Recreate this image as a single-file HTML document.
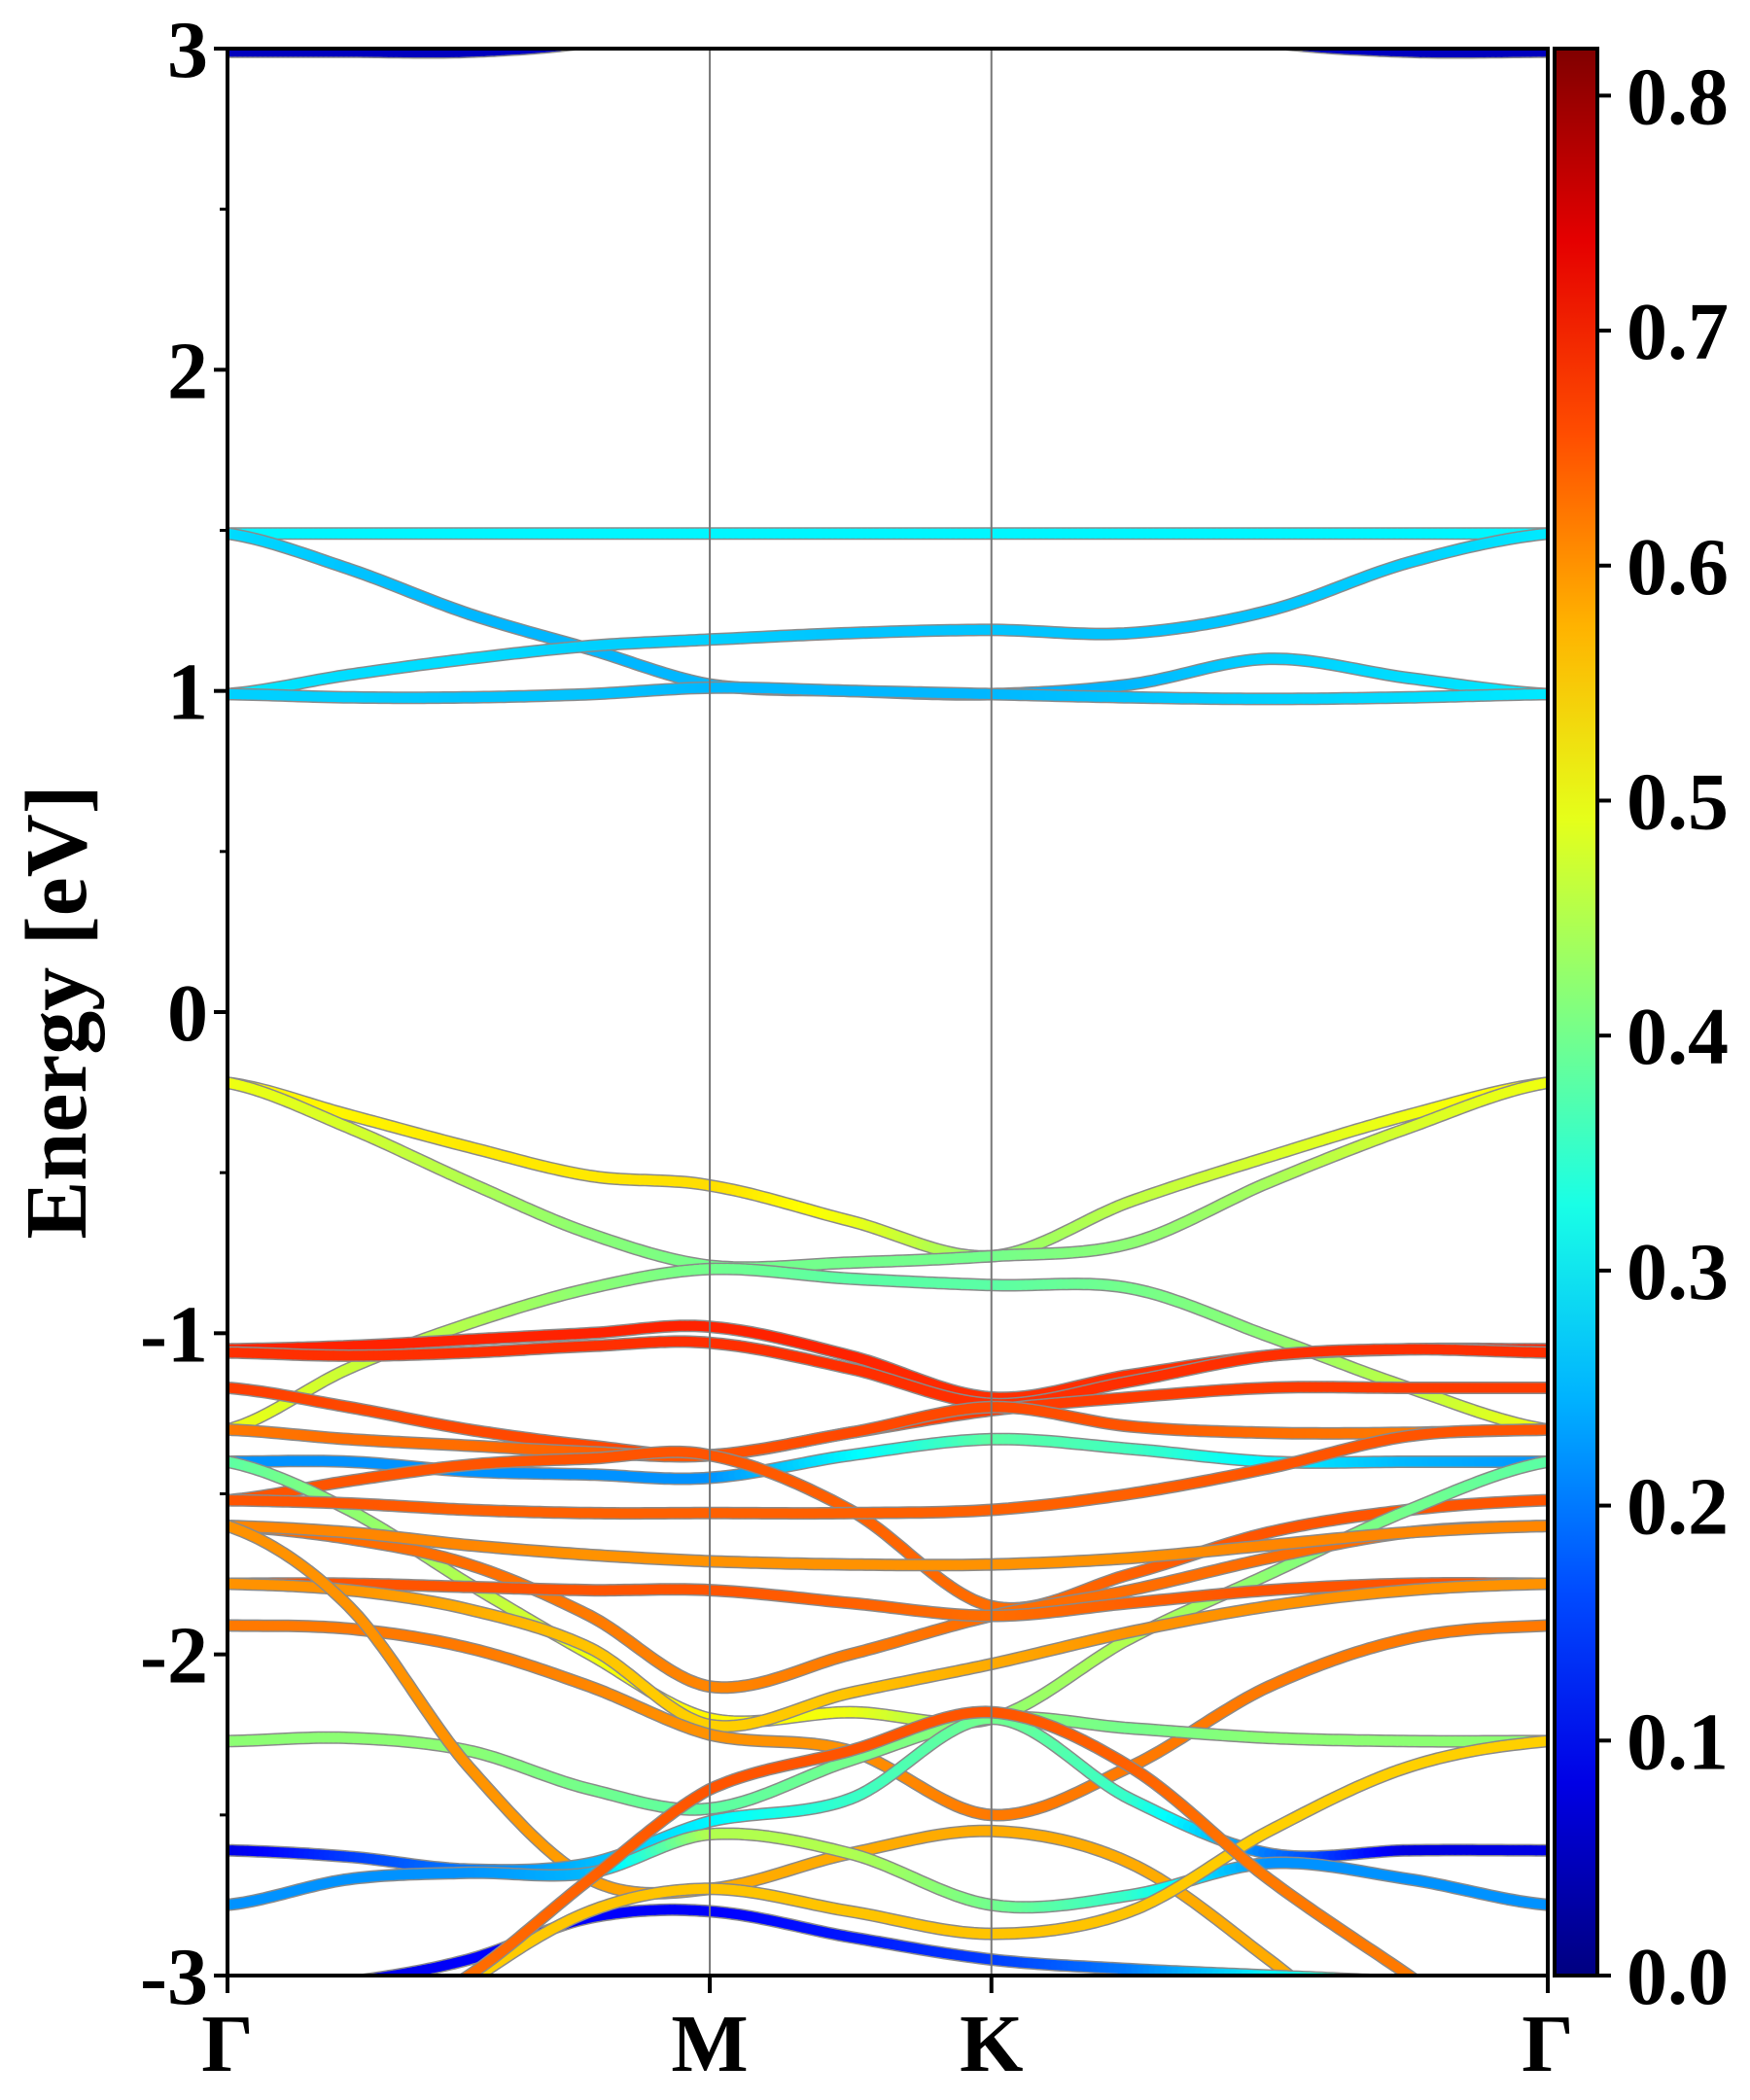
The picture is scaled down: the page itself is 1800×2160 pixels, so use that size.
<!DOCTYPE html>
<html><head><meta charset="utf-8"><style>
html,body{margin:0;padding:0;background:#fff;}
svg{display:block;}
text{font-family:"Liberation Serif","Times New Roman",serif;font-weight:700;}
</style></head><body>
<svg id="chart" width="1800" height="2160" xmlns="http://www.w3.org/2000/svg">
<defs><clipPath id="pc"><rect x="234" y="50" width="1358" height="1982"/></clipPath>
<linearGradient id="cbg" x1="0" y1="1" x2="0" y2="0"></linearGradient></defs>
<g id="bands" clip-path="url(#pc)"></g>
<g id="axes"></g>
</svg>
<script>
// k-path sample positions (fractions along path) and labels
const kPos = [0,0.0918,0.1827,0.2745,0.3653,0.4714,0.5786,0.6837,0.7888,0.8949,1];
const kLabels = ["Γ","M","K","Γ"];
const kLabelPos = [0,0.3653,0.5786,1];
const yTicks = [-3,-2,-1,0,1,2,3];
const cbTicks = [0.0,0.1,0.2,0.3,0.4,0.5,0.6,0.7,0.8];
const cMax = 0.82;
// band energies (eV) at kPos
const bandE = [
 [2.99,2.99,2.99,3.02,3.1,3.15,3.15,3.1,3.02,2.99,2.99],
 [1.49,1.49,1.49,1.49,1.49,1.49,1.49,1.49,1.49,1.49,1.49],
 [1.49,1.38,1.24,1.13,1.02,1.0,0.99,1.02,1.10,1.04,0.99],
 [0.99,1.05,1.10,1.14,1.16,1.18,1.19,1.18,1.25,1.40,1.49],
 [0.99,0.98,0.98,0.99,1.01,1.0,0.99,0.98,0.975,0.98,0.99],
 [-0.22,-0.32,-0.42,-0.51,-0.54,-0.65,-0.76,-0.59,-0.45,-0.32,-0.22],
 [-0.22,-0.36,-0.53,-0.69,-0.79,-0.78,-0.76,-0.72,-0.53,-0.36,-0.22],
 [-1.30,-1.11,-0.97,-0.86,-0.80,-0.83,-0.85,-0.86,-1.01,-1.17,-1.30],
 [-1.05,-1.04,-1.02,-1.00,-0.98,-1.07,-1.20,-1.13,-1.07,-1.05,-1.05],
 [-1.06,-1.07,-1.06,-1.04,-1.03,-1.11,-1.22,-1.15,-1.07,-1.05,-1.06],
 [-1.17,-1.23,-1.30,-1.35,-1.38,-1.31,-1.24,-1.20,-1.17,-1.17,-1.17],
 [-1.30,-1.33,-1.35,-1.37,-1.38,-1.31,-1.23,-1.29,-1.31,-1.31,-1.30],
 [-1.40,-1.40,-1.43,-1.44,-1.45,-1.38,-1.33,-1.36,-1.40,-1.40,-1.40],
 [-1.52,-1.46,-1.41,-1.39,-1.38,-1.55,-1.85,-1.75,-1.62,-1.55,-1.52],
 [-1.40,-1.55,-1.78,-2.0,-2.2,-2.18,-2.2,-1.95,-1.75,-1.55,-1.40],
 [-1.60,-1.64,-1.72,-1.88,-2.10,-2.0,-1.88,-1.8,-1.7,-1.62,-1.60],
 [-1.52,-1.53,-1.55,-1.56,-1.56,-1.56,-1.55,-1.50,-1.42,-1.32,-1.30],
 [-1.60,-1.62,-1.66,-1.69,-1.71,-1.72,-1.72,-1.70,-1.66,-1.62,-1.60],
 [-1.78,-1.78,-1.79,-1.80,-1.80,-1.84,-1.88,-1.84,-1.80,-1.78,-1.78],
 [-1.78,-1.80,-1.86,-1.98,-2.22,-2.12,-2.03,-1.93,-1.85,-1.80,-1.78],
 [-1.91,-1.92,-1.98,-2.10,-2.25,-2.30,-2.50,-2.35,-2.10,-1.95,-1.91],
 [-2.27,-2.26,-2.30,-2.42,-2.48,-2.33,-2.20,-2.23,-2.26,-2.27,-2.27],
 [-1.60,-1.85,-2.35,-2.70,-2.73,-2.62,-2.55,-2.65,-2.95,-3.30,-3.50],
 [-2.61,-2.63,-2.67,-2.65,-2.52,-2.45,-2.20,-2.45,-2.62,-2.61,-2.61],
 [-2.78,-2.70,-2.68,-2.68,-2.56,-2.62,-2.78,-2.75,-2.65,-2.70,-2.78],
 [-3.05,-3.02,-2.95,-2.82,-2.80,-2.88,-2.95,-2.98,-3.00,-3.02,-3.05],
 [-3.50,-3.30,-3.02,-2.80,-2.73,-2.80,-2.87,-2.80,-2.55,-2.35,-2.27],
 [-3.40,-3.20,-3.00,-2.70,-2.42,-2.30,-2.18,-2.35,-2.70,-3.00,-3.30]
];
// weight (colour value) per band at kPos
const bandW = [
 [0.05,0.05,0.05,0.05,0.05,0.05,0.05,0.05,0.05,0.05,0.05],
 [0.30,0.30,0.30,0.30,0.30,0.30,0.30,0.30,0.30,0.30,0.30],
 [0.28,0.26,0.25,0.25,0.25,0.24,0.24,0.25,0.27,0.28,0.29],
 [0.29,0.28,0.28,0.27,0.27,0.26,0.26,0.26,0.26,0.27,0.29],
 [0.27,0.27,0.26,0.26,0.25,0.25,0.25,0.26,0.27,0.28,0.29],
 [0.52,0.52,0.53,0.53,0.54,0.50,0.42,0.46,0.48,0.50,0.52],
 [0.50,0.48,0.45,0.42,0.40,0.40,0.40,0.42,0.44,0.48,0.50],
 [0.50,0.47,0.45,0.42,0.40,0.38,0.38,0.40,0.42,0.46,0.50],
 [0.69,0.69,0.69,0.69,0.69,0.69,0.68,0.68,0.68,0.69,0.69],
 [0.68,0.68,0.68,0.68,0.68,0.68,0.68,0.68,0.68,0.68,0.68],
 [0.67,0.66,0.66,0.66,0.66,0.66,0.67,0.67,0.67,0.67,0.67],
 [0.62,0.63,0.63,0.64,0.65,0.66,0.66,0.65,0.63,0.62,0.62],
 [0.22,0.22,0.22,0.22,0.22,0.30,0.38,0.36,0.30,0.25,0.22],
 [0.65,0.65,0.65,0.65,0.65,0.64,0.63,0.64,0.65,0.65,0.65],
 [0.38,0.42,0.45,0.50,0.52,0.50,0.42,0.45,0.42,0.40,0.38],
 [0.63,0.63,0.63,0.62,0.61,0.62,0.63,0.63,0.63,0.63,0.63],
 [0.65,0.65,0.64,0.64,0.64,0.64,0.64,0.64,0.65,0.65,0.65],
 [0.61,0.61,0.61,0.60,0.60,0.60,0.60,0.60,0.61,0.61,0.61],
 [0.65,0.65,0.65,0.65,0.65,0.64,0.63,0.64,0.65,0.65,0.65],
 [0.60,0.60,0.58,0.56,0.55,0.56,0.58,0.60,0.60,0.60,0.60],
 [0.62,0.62,0.62,0.61,0.60,0.60,0.62,0.62,0.62,0.62,0.62],
 [0.42,0.42,0.42,0.40,0.38,0.40,0.42,0.40,0.42,0.42,0.42],
 [0.60,0.60,0.60,0.59,0.58,0.58,0.58,0.58,0.58,0.58,0.58],
 [0.08,0.15,0.20,0.25,0.30,0.35,0.40,0.35,0.20,0.08,0.08],
 [0.22,0.22,0.22,0.25,0.45,0.45,0.40,0.35,0.22,0.22,0.22],
 [0.08,0.08,0.10,0.10,0.10,0.12,0.15,0.20,0.30,0.40,0.45],
 [0.55,0.55,0.55,0.56,0.56,0.56,0.56,0.56,0.55,0.55,0.55],
 [0.62,0.62,0.63,0.64,0.65,0.65,0.65,0.64,0.62,0.62,0.62]
];
const NS="http://www.w3.org/2000/svg";
const X0=234,X1=1592,Y0=50,Y1=2032,EMAX=3,EMIN=-3;
const FONT='"Liberation Serif","Times New Roman",serif';
function xs(f){return X0+f*(X1-X0);}
function ys(e){return Y0+(EMAX-e)/(EMAX-EMIN)*(Y1-Y0);}
function jet(v){let t=Math.max(0,Math.min(1,v/cMax));
 function c(x){return Math.max(0,Math.min(1,1.5-Math.abs(x)));}
 const r=c(4*t-3),g=c(4*t-2),b=c(4*t-1);
 return `rgb(${Math.round(r*255)},${Math.round(g*255)},${Math.round(b*255)})`;}
function mk(tag,attrs,parent){const e=document.createElementNS(NS,tag);for(const k in attrs)e.setAttribute(k,attrs[k]);parent.appendChild(e);return e;}
function cr(p0,p1,p2,p3,t){const t2=t*t,t3=t2*t;return 0.5*((2*p1)+(-p0+p2)*t+(2*p0-5*p1+4*p2-p3)*t2+(-p0+3*p1-3*p2+p3)*t3);}
const bandsG=document.getElementById('bands');
const N=kPos.length,SUB=24;
bandE.forEach((E,bi)=>{
 const W=bandW[bi];const pts=[];
 for(let i=0;i<N-1;i++){
  for(let s=0;s<SUB;s++){const t=s/SUB;
   const a=Math.max(0,i-1),d=Math.min(N-1,i+2);
   pts.push([kPos[i]+(kPos[i+1]-kPos[i])*t,cr(E[a],E[i],E[i+1],E[d],t),W[i]+(W[i+1]-W[i])*t]);}
 }
 pts.push([kPos[N-1],E[N-1],W[N-1]]);
 const g=mk('g',{},bandsG);
 
 
 const dStr=pts.map((p,i)=>(i?'L':'M')+xs(p[0]).toFixed(1)+' '+ys(p[1]).toFixed(1)).join(' ');
 mk('path',{d:dStr,fill:'none',stroke:'#8a8a8a','stroke-width':13,'stroke-linejoin':'round'},g);
 for(let i=0;i<pts.length-1;i++){
  mk('line',{x1:xs(pts[i][0]).toFixed(1),y1:ys(pts[i][1]).toFixed(1),x2:xs(pts[i+1][0]).toFixed(1),y2:ys(pts[i+1][1]).toFixed(1),stroke:jet((pts[i][2]+pts[i+1][2])/2),'stroke-width':10,'stroke-linecap':'round'},g);
 }
});
const ax=document.getElementById('axes');
kLabelPos.slice(1,3).forEach(f=>{const l=mk('line',{x1:xs(f),y1:Y0,x2:xs(f),y2:Y1,stroke:'#777','stroke-width':2},ax);
 
 });
const fr=mk('rect',{x:X0,y:Y0,width:X1-X0,height:Y1-Y0,fill:'none',stroke:'#000','stroke-width':4},ax);


yTicks.forEach(v=>{const y=ys(v);
 mk('line',{x1:X0-14,y1:y,x2:X0,y2:y,stroke:'#000','stroke-width':4},ax);
 const t=mk('text',{x:X0-20,y:y+29,'text-anchor':'end','font-size':84,'font-family':FONT,'font-weight':'bold'},ax);t.textContent=String(v);
 
 });
for(let v=-2.5;v<3;v+=1){const y=ys(v);mk('line',{x1:X0-8,y1:y,x2:X0,y2:y,stroke:'#000','stroke-width':3},ax);}
kLabelPos.forEach((f,i)=>{const x=xs(f);
 mk('line',{x1:x,y1:Y1,x2:x,y2:Y1+18,stroke:'#000','stroke-width':4},ax);
 const t=mk('text',{x:x,y:2130,'text-anchor':'middle','font-size':84,'font-family':FONT,'font-weight':'bold'},ax);t.textContent=kLabels[i];
 
 });
const yt=mk('text',{x:0,y:0,'text-anchor':'middle','font-size':90,'font-family':FONT,'font-weight':'bold',transform:'translate(88 1041) rotate(-90)'},ax);
yt.textContent='Energy [eV]';


const grad=document.getElementById('cbg');
for(let i=0;i<=10;i++){mk('stop',{offset:i/10,'stop-color':jet(cMax*i/10)},grad);}
const CX=1599,CW=44;
const cb=mk('rect',{x:CX,y:Y0,width:CW,height:Y1-Y0,fill:'url(#cbg)',stroke:'#000','stroke-width':4},ax);


cbTicks.forEach(v=>{const y=Y1-(v/cMax)*(Y1-Y0);
 mk('line',{x1:CX+CW,y1:y,x2:CX+CW+14,y2:y,stroke:'#000','stroke-width':4},ax);
 const t=mk('text',{x:CX+CW+30,y:y+29,'font-size':84,'font-family':FONT,'font-weight':'bold'},ax);t.textContent=v.toFixed(1);
 
 });
</script>
</body></html>
